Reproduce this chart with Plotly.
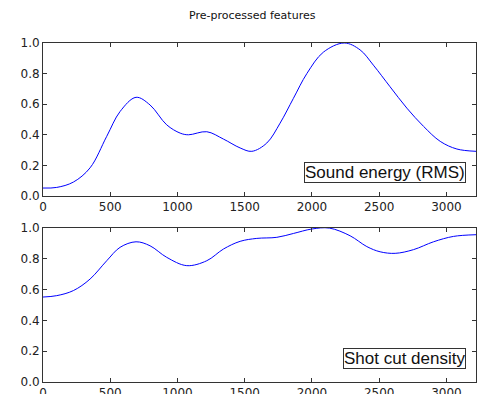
import plotly.graph_objects as go
from plotly.subplots import make_subplots

# Sound energy (RMS)
rms_x = [0, 102, 226, 350, 474, 573, 692, 796, 920, 1020, 1082, 1218, 1342, 1466, 1553, 1664, 1763, 1862, 1962, 2085, 2240, 2358, 2457, 2581, 2706, 2830, 2954, 3078, 3220]
rms_y = [0.052, 0.056, 0.091, 0.184, 0.39, 0.552, 0.645, 0.595, 0.465, 0.411, 0.40, 0.42, 0.372, 0.314, 0.292, 0.346, 0.476, 0.638, 0.80, 0.94, 1.0, 0.955, 0.855, 0.714, 0.574, 0.455, 0.357, 0.307, 0.292]

# Shot cut density
cut_x = [0, 102, 226, 350, 474, 573, 692, 796, 920, 1069, 1218, 1342, 1466, 1590, 1739, 1862, 1999, 2130, 2284, 2408, 2507, 2619, 2755, 2904, 3053, 3220]
cut_y = [0.552, 0.561, 0.594, 0.669, 0.788, 0.875, 0.911, 0.885, 0.81, 0.756, 0.788, 0.864, 0.914, 0.933, 0.94, 0.965, 0.994, 1.0, 0.95, 0.88, 0.846, 0.836, 0.86, 0.911, 0.946, 0.957]

labels = ["Sound energy (RMS)", "Shot cut density"]
x_ticks = [0, 500, 1000, 1500, 2000, 2500, 3000]
y_ticks = [0.0, 0.2, 0.4, 0.6, 0.8, 1.0]
title = "Pre-processed features"

fig = make_subplots(rows=2, cols=1)
fig.add_trace(go.Scatter(x=rms_x, y=rms_y, mode="lines", line=dict(color="#0000ff", width=1, shape="spline", smoothing=1.0)), row=1, col=1)
fig.add_trace(go.Scatter(x=cut_x, y=cut_y, mode="lines", line=dict(color="#0000ff", width=1, shape="spline", smoothing=1.0)), row=2, col=1)

axis_common = dict(showgrid=False, zeroline=False, showline=True, linecolor="#333333", linewidth=1,
                   mirror="ticks", ticks="inside", ticklen=4, tickcolor="#333333",
                   tickfont=dict(family="DejaVu Sans", size=12, color="#222222"))

for r in (1, 2):
    fig.update_xaxes(range=[0, 3220], tickvals=x_ticks, ticktext=[str(v) for v in x_ticks], row=r, col=1, **axis_common)
    fig.update_yaxes(range=[0, 1], tickvals=y_ticks, ticktext=["%.1f" % v for v in y_ticks], row=r, col=1, **axis_common)

fig.update_layout(
    width=479, height=394,
    margin=dict(l=43, r=3, t=43, b=12, autoexpand=False),
    paper_bgcolor="white", plot_bgcolor="white",
    showlegend=False,
    xaxis=dict(domain=[0, 1]), xaxis2=dict(domain=[0, 1]),
    yaxis=dict(domain=[0.5487, 1.0]), yaxis2=dict(domain=[0.0, 0.454]),
)

fig.add_annotation(text=title, xref="paper", yref="paper", x=0.483, y=1.0, yshift=28,
                   xanchor="center", yanchor="middle", showarrow=False,
                   font=dict(family="DejaVu Sans", size=11, color="#111111"))

fig.add_annotation(text=labels[0], xref="x domain", yref="y domain", x=0.977, y=0.083,
                   xanchor="right", yanchor="bottom", showarrow=False,
                   bordercolor="#333333", borderwidth=1, borderpad=0, bgcolor="white",
                   font=dict(family="Liberation Sans", size=17, color="#111111"))
fig.add_annotation(text=labels[1], xref="x2 domain", yref="y2 domain", x=0.978, y=0.084,
                   xanchor="right", yanchor="bottom", showarrow=False,
                   bordercolor="#333333", borderwidth=1, borderpad=0, bgcolor="white",
                   font=dict(family="Liberation Sans", size=17, color="#111111"))

fig.write_html("out.html", config={"displayModeBar": False},
               post_script="document.body.style.margin='0';document.body.style.overflow='hidden';")
